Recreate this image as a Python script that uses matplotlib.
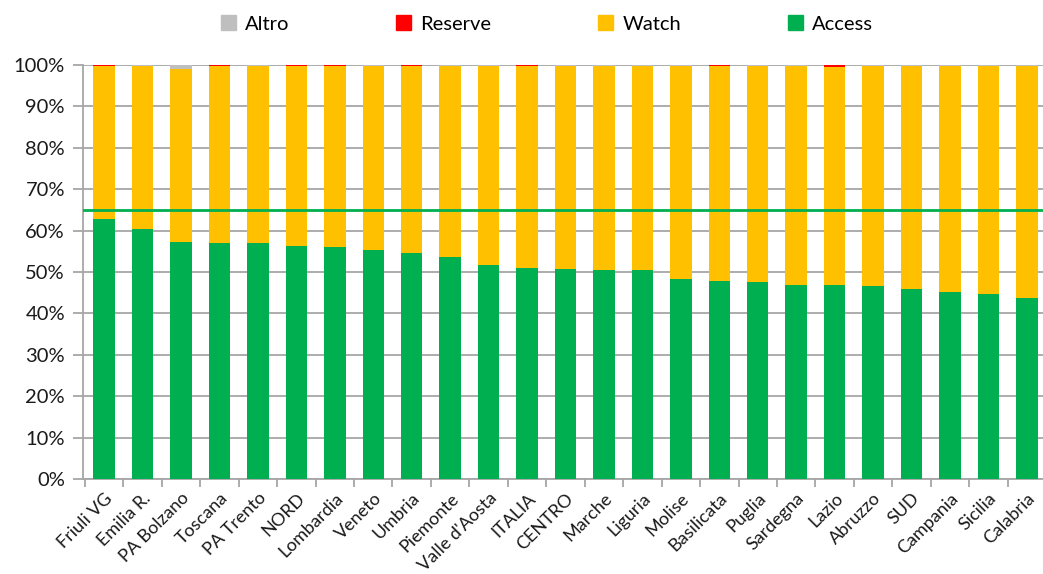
import matplotlib
matplotlib.use("Agg")
import matplotlib.pyplot as plt
import numpy as np
from matplotlib.patches import Patch

categories = ["Friuli VG", "Emilia R.", "PA Bolzano", "Toscana", "PA Trento", "NORD",
              "Lombardia", "Veneto", "Umbria", "Piemonte", "Valle d'Aosta", "ITALIA",
              "CENTRO", "Marche", "Liguria", "Molise", "Basilicata", "Puglia",
              "Sardegna", "Lazio", "Abruzzo", "SUD", "Campania", "Sicilia", "Calabria"]
access = [62.9, 60.5, 57.2, 57.1, 56.9, 56.3, 56.0, 55.3, 54.5, 53.6, 51.6, 50.9,
          50.7, 50.4, 50.4, 48.2, 47.8, 47.6, 46.8, 46.8, 46.5, 45.8, 45.1, 44.8, 43.6]
reserve = [0.1, 0.05, 0.05, 0.1, 0.05, 0.1, 0.1, 0.05, 0.05, 0.05, 0.05, 0.1,
           0.05, 0.05, 0.05, 0.05, 0.1, 0.05, 0.05, 0.4, 0.05, 0.05, 0.05, 0.05, 0.05]
altro = [0.1, 0.2, 0.9, 0.1, 0.3, 0.1, 0.1, 0.2, 0.1, 0.2, 0.2, 0.1,
         0.2, 0.2, 0.2, 0.2, 0.1, 0.2, 0.2, 0.1, 0.2, 0.2, 0.2, 0.2, 0.2]
target = 65.0
yticks = [0, 10, 20, 30, 40, 50, 60, 70, 80, 90, 100]

access_a = np.array(access)
reserve_a = np.array(reserve)
altro_a = np.array(altro)
watch_a = 100 - access_a - reserve_a - altro_a

plt.rcParams['font.family'] = ['Lato', 'DejaVu Sans']

W, H = 1043, 574
fig = plt.figure(figsize=(W / 100, H / 100), dpi=100)
ax = fig.add_axes([83 / W, (H - 479) / H, 965 / W, 414 / H])

C_ACC = "#00B050"
C_WAT = "#FFC000"
C_RES = "#FF0000"
C_ALT = "#BFBFBF"

x = np.arange(len(categories))
bw = 0.56
ax.bar(x, access_a, bw, color=C_ACC, zorder=3)
ax.bar(x, watch_a, bw, bottom=access_a, color=C_WAT, zorder=3)
ax.bar(x, reserve_a, bw, bottom=access_a + watch_a, color=C_RES, zorder=3)
ax.bar(x, altro_a, bw, bottom=access_a + watch_a + reserve_a, color=C_ALT, zorder=3)

ax.axhline(target, color=C_ACC, lw=2, zorder=4)

ax.set_xlim(-0.55, len(categories) - 0.45)
ax.set_ylim(0, 100)
ax.set_yticks(yticks)
ax.set_yticklabels([f"{v}%" for v in yticks], fontsize=14.5, color="#1a1a1a")
ax.yaxis.grid(True, color="#A6A6A6", lw=1.3, zorder=0)
ax.set_axisbelow(True)

ax.set_xticks(x)
ax.set_xticklabels(categories, rotation=45, ha="right", rotation_mode="anchor",
                   fontsize=13, color="#1a1a1a")
ax.set_xticks(np.arange(-0.5, len(categories), 1), minor=True)
ax.tick_params(axis="x", which="major", length=0, pad=8)
ax.tick_params(axis="x", which="minor", length=6, color="#A6A6A6", width=1.3)
ax.tick_params(axis="y", length=7, color="#A6A6A6", width=1.3, pad=6)

for s in ["top", "right"]:
    ax.spines[s].set_visible(False)
for s in ["left", "bottom"]:
    ax.spines[s].set_color("#A6A6A6")
    ax.spines[s].set_linewidth(1.3)

handles = [Patch(color=C_ALT, label="Altro"), Patch(color=C_RES, label="Reserve"),
           Patch(color=C_WAT, label="Watch"), Patch(color=C_ACC, label="Access")]
fig.legend(handles=handles, loc="center", bbox_to_anchor=(547 / W, (H - 24) / H),
           ncol=4, frameon=False, fontsize=14.5, handlelength=0.75, handleheight=0.75,
           handletextpad=0.45, columnspacing=5.3)

fig.savefig("out.png", dpi=100)
